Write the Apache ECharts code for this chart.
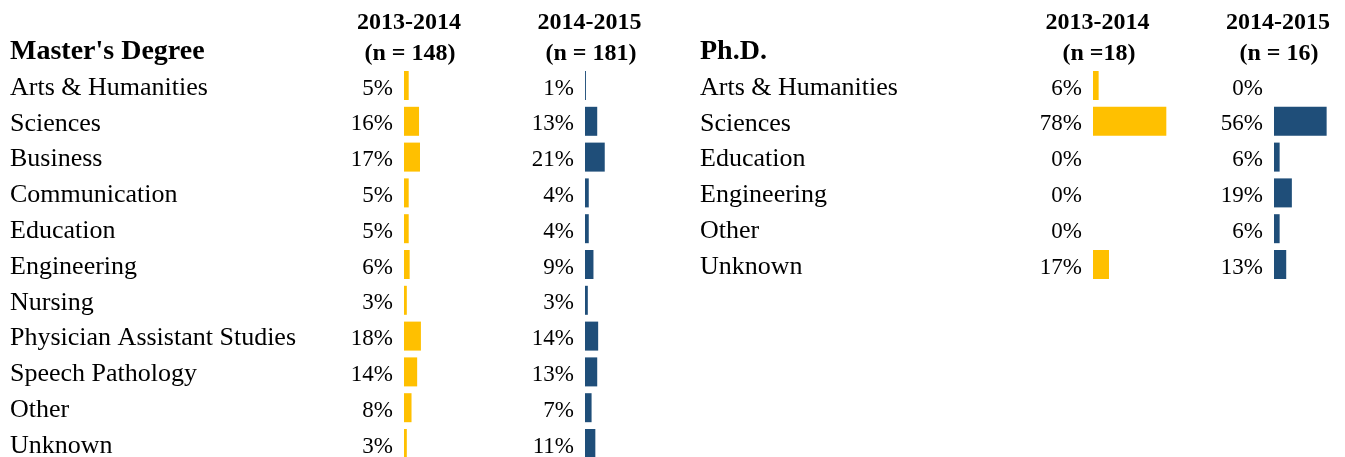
<!DOCTYPE html>
<html>
<head>
<meta charset="utf-8">
<script src="https://cdn.jsdelivr.net/npm/echarts@6/dist/echarts.min.js"></script>
<style>
  html, body { margin: 0; padding: 0; background: #fff; overflow: hidden; }
  /* taller than the window so the last row can run off the bottom edge like the original */
  #chart { width: 1345px; height: 480px; }
</style>
</head>
<body>
<div id="chart"></div>
<script>
// Master's Degree
const mastersCategories = ['Arts & Humanities', 'Sciences', 'Business', 'Communication', 'Education',
  'Engineering', 'Nursing', 'Physician Assistant Studies', 'Speech Pathology', 'Other', 'Unknown'];
const masters2013 = [5, 16, 17, 5, 5, 6, 3, 18, 14, 8, 3];
const masters2014 = [1, 13, 21, 4, 4, 9, 3, 14, 13, 7, 11];

// Ph.D.
const phdCategories = ['Arts & Humanities', 'Sciences', 'Education', 'Engineering', 'Other', 'Unknown'];
const phd2013 = [6, 78, 0, 0, 0, 17];
const phd2014 = [0, 56, 6, 19, 6, 13];

const yearLabels = ['2013-2014', '2014-2015'];
const mastersN = ['(n = 148)', '(n = 181)'];
const phdN = ['(n =18)', '(n = 16)'];

const YELLOW = '#FFC000';
const BLUE = '#1F4E79';
const FONT = 'Liberation Serif';
const ROW = 35.8;
const TOP = 67.6;
const PX_PER_PCT = 0.94;

const chart = echarts.init(document.getElementById('chart'));

// one grid per bar column (last one is narrower so it stays inside the canvas)
const cols = [
  { left: 404, cats: mastersCategories, data: masters2013, color: YELLOW, max: 100 },
  { left: 585, cats: mastersCategories, data: masters2014, color: BLUE, max: 100 },
  { left: 1093, cats: phdCategories, data: phd2013, color: YELLOW, max: 100 },
  { left: 1274, cats: phdCategories, data: phd2014, color: BLUE, max: 70 }
];
// category name columns sit on their own grids, a little lower than the bars
const labelCols = [
  { left: 404, cats: mastersCategories, x: 10 },
  { left: 1093, cats: phdCategories, x: 700 }
];

const grid = [];
const xAxis = [];
const yAxis = [];
const series = [];

cols.forEach((c, i) => {
  grid.push({ left: c.left, top: TOP, width: c.max * PX_PER_PCT, height: ROW * c.cats.length });
  xAxis.push({ gridIndex: i, type: 'value', min: 0, max: c.max, show: false });
  yAxis.push({
    gridIndex: i, type: 'category', inverse: true, data: c.cats,
    axisLine: { show: false }, axisTick: { show: false }, axisLabel: { show: false }
  });
  series.push({
    type: 'bar',
    xAxisIndex: i,
    yAxisIndex: i,
    data: c.data,
    barWidth: 29,
    clip: false,
    itemStyle: { color: c.color },
    silent: true,
    label: {
      show: true,
      position: 'left',
      distance: 11,
      offset: [0, 3],
      formatter: '{c}%',
      fontFamily: FONT,
      fontSize: 23,
      color: '#000'
    }
  });
});

labelCols.forEach((c, j) => {
  const i = cols.length + j;
  grid.push({ left: c.left, top: TOP + 2.5, width: 50, height: ROW * c.cats.length });
  xAxis.push({ gridIndex: i, type: 'value', min: 0, max: 100, show: false });
  yAxis.push({
    gridIndex: i, type: 'category', inverse: true, data: c.cats,
    axisLine: { show: false }, axisTick: { show: false },
    axisLabel: {
      align: 'left',
      margin: c.left - c.x,
      fontFamily: FONT,
      fontSize: 26,
      color: '#000'
    }
  });
});

function txt(text, x, y, size, align) {
  return {
    type: 'text',
    style: {
      text: text, x: x, y: y,
      textAlign: align || 'center',
      textVerticalAlign: 'middle',
      font: 'bold ' + size + 'px "' + FONT + '"',
      fill: '#000'
    }
  };
}

const graphic = [
  txt("Master's Degree", 10, 51.5, 28, 'left'),
  txt(yearLabels[0], 409, 22.5, 24),
  txt(mastersN[0], 410, 53.5, 24),
  txt(yearLabels[1], 589.5, 22.5, 24),
  txt(mastersN[1], 591, 53.5, 24),
  txt('Ph.D.', 700, 51.5, 28, 'left'),
  txt(yearLabels[0], 1097.5, 22.5, 24),
  txt(phdN[0], 1099, 53.5, 24),
  txt(yearLabels[1], 1278, 22.5, 24),
  txt(phdN[1], 1279, 53.5, 24)
];

chart.setOption({
  animation: false,
  backgroundColor: '#fff',
  grid: grid,
  xAxis: xAxis,
  yAxis: yAxis,
  series: series,
  graphic: graphic
});
</script>
</body>
</html>
